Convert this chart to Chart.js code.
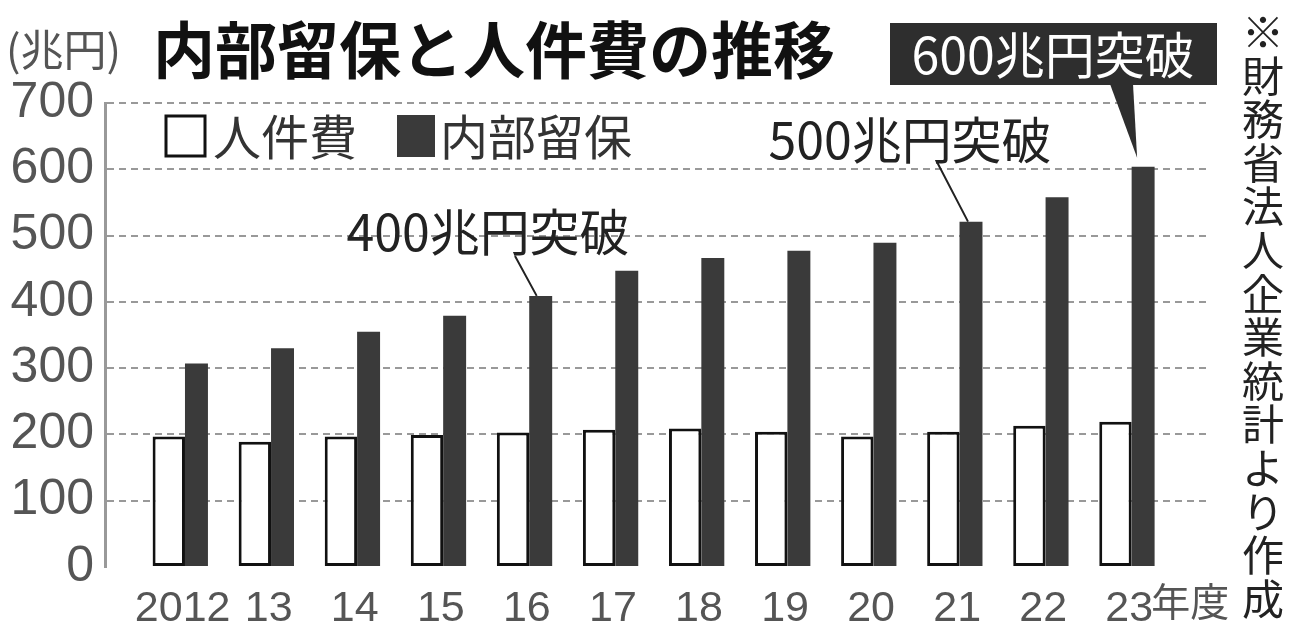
<!DOCTYPE html>
<html lang="ja">
<head>
<meta charset="utf-8">
<title>内部留保と人件費の推移</title>
<script src="https://cdn.jsdelivr.net/npm/chart.js@4.4.1/dist/chart.umd.min.js"></script>
<style>
    body { margin: 0; background: #fff; }
    #wrap { width: 1297px; height: 627px; }
</style>
</head>
<body>
<div id="wrap"><canvas id="chart" width="1297" height="627"></canvas></div>
<script>
// fiscal years (x labels)
const years = ['2012', '13', '14', '15', '16', '17', '18', '19', '20', '21', '22', '23'];
// 人件費 (trillion yen)
const laborCost = [197, 189, 197, 199, 203, 207, 209, 204, 197, 204, 213, 219];
// 内部留保 (trillion yen)
const retained = [307, 330, 355, 379, 409, 447, 466, 477, 489, 521, 558, 604];
const yTicks = [0, 100, 200, 300, 400, 500, 600, 700];

const jp = '"Noto Sans CJK JP", "Noto Sans", sans-serif';
const num = '"Liberation Sans", Arial, sans-serif';

const toPoints = (arr) => arr.map((v, i) => ({ x: i, y: v }));

// texts, legend, callouts
const decor = {
    id: 'decor',
    afterDraw(chart) {
        const ctx = chart.ctx;
        const dark = chart.getDatasetMeta(1).data;
        const xs = chart.scales.x;
        ctx.save();

        ctx.fillStyle = '#555';
        ctx.font = '43px ' + jp;
        ctx.textBaseline = 'middle';
        ctx.textAlign = 'left';
        ctx.fillText('(兆円)', 6, 50);

        ctx.fillStyle = '#111';
        ctx.font = 'bold 62px ' + jp;
        ctx.fillText('内部留保と人件費の推移', 153, 50);

        // legend
        const ds = chart.data.datasets;
        ctx.lineWidth = 3;
        ctx.strokeStyle = ds[0].borderColor;
        ctx.fillStyle = ds[0].backgroundColor;
        ctx.fillRect(166, 116, 39, 40);
        ctx.strokeRect(166, 116, 39, 40);
        ctx.fillStyle = ds[1].backgroundColor;
        ctx.fillRect(397, 115, 38, 42);
        ctx.fillStyle = '#333';
        ctx.font = '48px ' + jp;
        ctx.fillText(ds[0].label, 213, 137);
        ctx.fillText(ds[1].label, 440, 137);

        // 400 / 500 callouts
        ctx.textAlign = 'center';
        ctx.font = '50px ' + jp;
        ctx.fillStyle = '#222';
        ctx.fillText('400兆円突破', 488, 232);
        ctx.fillText('500兆円突破', 910, 140);
        ctx.strokeStyle = '#222';
        ctx.lineWidth = 2;
        ctx.beginPath();
        ctx.moveTo(515, 256);
        ctx.lineTo(dark[4].x - 4, dark[4].y);
        ctx.moveTo(937, 162);
        ctx.lineTo(dark[9].x - 3, dark[9].y);
        ctx.stroke();

        // 600 callout
        ctx.fillStyle = '#2e2e2e';
        ctx.fillRect(890, 23, 327, 62);
        ctx.beginPath();
        ctx.moveTo(1110, 84);
        ctx.lineTo(1133, 84);
        ctx.lineTo(dark[11].x - 6, dark[11].y - 9);
        ctx.closePath();
        ctx.fill();
        ctx.fillStyle = '#fff';
        ctx.fillText('600兆円突破', 1053, 55);

        // 年度 after the last tick
        ctx.fillStyle = '#555';
        ctx.font = '43px ' + num;
        const w23 = ctx.measureText(years[years.length - 1]).width;
        ctx.font = '39px ' + jp;
        ctx.textAlign = 'left';
        ctx.fillText('年度', xs.getPixelForValue(years.length - 1) + w23 / 2 - 2, 601);

        // vertical source note
        ctx.fillStyle = '#222';
        ctx.font = '42px ' + jp;
        ctx.textAlign = 'center';
        const note = '※財務省法人企業統計より作成';
        for (let i = 0; i < note.length; i++) {
            ctx.fillText(note[i], 1263, 32 + i * 43.6);
        }
        ctx.restore();
    }
};

const ctx = document.getElementById('chart').getContext('2d');
new Chart(ctx, {
    type: 'bar',
    data: {
        datasets: [{
            label: '人件費',
            data: toPoints(laborCost),
            backgroundColor: '#ffffff',
            borderColor: '#111111',
            borderWidth: 3,
            borderSkipped: false,
            barPercentage: 1.17
        }, {
            label: '内部留保',
            data: toPoints(retained),
            backgroundColor: '#3a3a3a',
            borderWidth: 0,
            barPercentage: 0.83
        }]
    },
    options: {
        responsive: false,
        animation: false,
        devicePixelRatio: 1,
        categoryPercentage: 0.643,
        layout: { padding: { left: 0, top: 103, right: 90, bottom: 0 } },
        plugins: { legend: { display: false }, tooltip: { enabled: false } },
        scales: {
            x: {
                type: 'linear',
                offset: false,
                min: -0.902,
                max: 11.903,
                afterBuildTicks: (scale) => { scale.ticks = years.map((y, i) => ({ value: i })); },
                afterFit: (scale) => { scale.height = 60; scale.paddingLeft = 0; scale.paddingRight = 0; },
                grid: { display: false },
                border: { display: false },
                ticks: {
                    callback: (v) => years[v],
                    color: '#555',
                    font: { family: num, size: 43 },
                    padding: 8,
                    maxRotation: 0,
                    autoSkip: false
                }
            },
            y: {
                min: 0,
                max: 700,
                afterBuildTicks: (scale) => { scale.ticks = yTicks.map(v => ({ value: v })); },
                afterFit: (scale) => { scale.width = 105; },
                grid: {
                    color: (c) => c.tick && c.tick.value === 0 ? 'rgba(0,0,0,0)' : '#999',
                    lineWidth: 2,
                    drawTicks: false
                },
                border: { display: true, color: '#999', width: 3, dash: [7, 5] },
                ticks: {
                    color: '#555',
                    font: { family: num, size: 50 },
                    padding: 11,
                    autoSkip: false
                }
            }
        }
    },
    plugins: [decor]
});
</script>
</body>
</html>
